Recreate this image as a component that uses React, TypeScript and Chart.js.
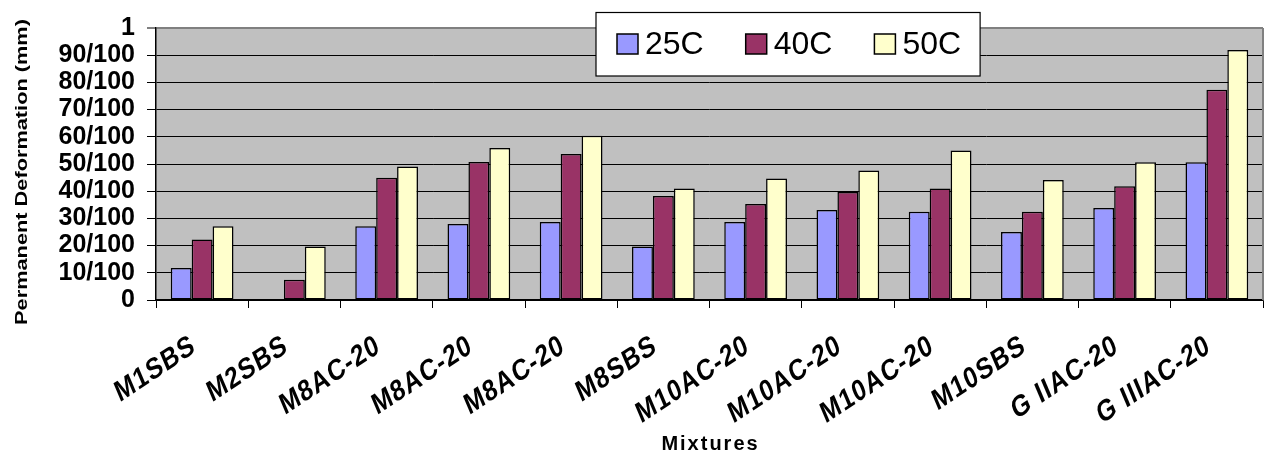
import React, { useEffect, useRef } from 'react';
import { Chart, registerables } from 'chart.js';

Chart.register(...registerables);

const categories = [
  'M1SBS', 'M2SBS', 'M8AC-20', 'M8AC-20', 'M8AC-20', 'M8SBS',
  'M10AC-20', 'M10AC-20', 'M10AC-20', 'M10SBS', 'G IIAC-20', 'G IIIAC-20',
];
const seriesLabels = ['25C', '40C', '50C'];
const values25C = [0.118, null, 0.271, 0.279, 0.287, 0.197, 0.287, 0.331, 0.324, 0.25, 0.338, 0.506];
const values40C = [0.222, 0.074, 0.449, 0.507, 0.537, 0.382, 0.353, 0.397, 0.41, 0.324, 0.418, 0.773];
const values50C = [0.271, 0.197, 0.491, 0.559, 0.604, 0.41, 0.447, 0.476, 0.55, 0.441, 0.506, 0.919];
const seriesColors = ['#9999FF', '#993366', '#FFFFCC'];
const yTickLabels = ['0', '10/100', '20/100', '30/100', '40/100', '50/100', '60/100', '70/100', '80/100', '90/100', '1'];
const yTitle = 'Permanent Deformation (mm)';
const xTitle = 'Mixtures';

const FONT = '"Liberation Sans", Arial, sans-serif';
const X_LABEL_ANGLE = 28;
const X_LABEL_STRETCH = 1.25;

const decorPlugin = {
  id: 'decor',
  beforeDraw(chart: any) {
    const { ctx, chartArea: a } = chart;
    ctx.save();
    ctx.fillStyle = '#C0C0C0';
    ctx.fillRect(a.left, a.top, a.right - a.left, a.bottom - a.top);
    ctx.restore();
  },
  afterDraw(chart: any) {
    const { ctx, chartArea: a } = chart;
    ctx.save();
    ctx.strokeStyle = '#808080';
    ctx.lineWidth = 2;
    ctx.beginPath();
    ctx.moveTo(a.right, a.top);
    ctx.lineTo(a.right, a.bottom);
    ctx.stroke();

    ctx.fillStyle = '#000';

    // category labels, placed from the x scale's tick pixels
    const xs = chart.scales.x;
    ctx.save();
    ctx.font = `bold 24px ${FONT}`;
    (ctx as any).letterSpacing = '1px';
    ctx.textAlign = 'right';
    ctx.textBaseline = 'alphabetic';
    categories.forEach((lab, i) => {
      const px = xs.getPixelForTick(i);
      ctx.save();
      ctx.translate(px - 5, xs.top + 51);
      ctx.scale(1, X_LABEL_STRETCH);
      ctx.rotate((-X_LABEL_ANGLE * Math.PI) / 180);
      ctx.fillText(lab, 0, 0);
      ctx.restore();
    });
    ctx.restore();

    // y title
    ctx.save();
    ctx.translate(23, 172);
    ctx.scale(1, 1.36);
    ctx.rotate(-Math.PI / 2);
    ctx.font = `bold 16px ${FONT}`;
    ctx.textAlign = 'center';
    ctx.textBaseline = 'middle';
    ctx.fillText(yTitle, 0, 0);
    ctx.restore();

    // x title
    ctx.save();
    ctx.font = `bold 20px ${FONT}`;
    (ctx as any).letterSpacing = '2px';
    ctx.textAlign = 'center';
    ctx.textBaseline = 'middle';
    ctx.fillText(xTitle, (a.left + a.right) / 2 + 1, 444);
    ctx.restore();

    // legend
    ctx.font = `32px ${FONT}`;
    const boxLeft = 596;
    const boxTop = 12.5;
    const boxBottom = 76;
    const sw = 21;
    let x = boxLeft + 21;
    const items: { x: number; w: number }[] = [];
    seriesLabels.forEach((lab) => {
      const w = ctx.measureText(lab).width;
      items.push({ x, w });
      x += sw + 7 + w + 42;
    });
    const last = items[items.length - 1];
    const boxRight = last.x + sw + 7 + last.w + 19;
    ctx.fillStyle = '#fff';
    ctx.fillRect(boxLeft, boxTop, boxRight - boxLeft, boxBottom - boxTop);
    ctx.strokeStyle = '#000';
    ctx.lineWidth = 1.2;
    ctx.strokeRect(boxLeft, boxTop, boxRight - boxLeft, boxBottom - boxTop);
    seriesLabels.forEach((lab, i) => {
      const it = items[i];
      ctx.fillStyle = seriesColors[i];
      ctx.fillRect(it.x, 34, sw, 20);
      ctx.strokeStyle = '#000';
      ctx.lineWidth = 1.5;
      ctx.strokeRect(it.x, 34, sw, 20);
      ctx.fillStyle = '#000';
      ctx.textAlign = 'left';
      ctx.textBaseline = 'alphabetic';
      ctx.fillText(lab, it.x + sw + 7, 53.5);
    });
    ctx.restore();
  },
};

export default function App() {
  const ref = useRef<HTMLCanvasElement | null>(null);

  useEffect(() => {
    if (!ref.current) return;
    const allValues = [values25C, values40C, values50C];
    const chart = new Chart(ref.current, {
      type: 'bar',
      data: {
        labels: categories,
        datasets: seriesLabels.map((lab, i) => ({
          label: lab,
          data: allValues[i] as any,
          backgroundColor: seriesColors[i],
          borderColor: '#000',
          borderWidth: 1.5,
          borderSkipped: false as any,
          categoryPercentage: 0.68,
          barPercentage: 1,
        })),
      },
      options: {
        responsive: false,
        animation: false,
        layout: { padding: { top: 28, right: 8, left: 0, bottom: 0 } },
        plugins: {
          legend: { display: false },
          tooltip: { enabled: false },
        },
        scales: {
          x: {
            grid: {
              offset: true,
              drawOnChartArea: false,
              drawTicks: true,
              tickLength: 8,
              color: '#000',
            },
            border: { color: '#000', width: 1.5 },
            ticks: { display: false, autoSkip: false },
            afterFit(scale: any) {
              scale.height = 156;
            },
          },
          y: {
            min: 0,
            max: 1,
            grid: {
              color: (c: any) => (c.tick && c.tick.value >= 0.999 ? '#808080' : '#000'),
              lineWidth: (c: any) => (c.tick && c.tick.value >= 0.999 ? 2 : 1),
              tickLength: 9,
            },
            border: { color: '#000', width: 1.5 },
            ticks: {
              stepSize: 0.1,
              autoSkip: false,
              padding: 12,
              color: '#000',
              font: { family: FONT, size: 25, weight: 'bold' },
              callback: (_v: any, i: number) => yTickLabels[i],
            },
            afterFit(scale: any) {
              scale.width = 156;
            },
          },
        },
      },
      plugins: [decorPlugin],
    });
    return () => chart.destroy();
  }, []);

  return (
    <div style={{ position: 'fixed', left: 0, top: 0, width: 1271, height: 456, background: '#fff' }}>
      <canvas ref={ref} width={1271} height={456} style={{ display: 'block' }} />
    </div>
  );
}
